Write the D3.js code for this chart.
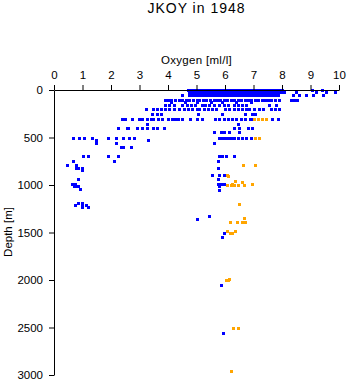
<!DOCTYPE html>
<html><head><meta charset="utf-8">
<script src="https://cdn.jsdelivr.net/npm/d3@7"></script>
<style>
body{margin:0;background:#fff}
svg text{font-family:"Liberation Sans",Arial,Helvetica,sans-serif;fill:#000}
</style>
</head><body>
<svg id="chart" width="348" height="384"></svg>
<script>
const titleText = "JKOY in 1948";
const xLabelText = "Oxygen [ml/l]";
const yLabelText = "Depth [m]";
const xTicks = [0,1,2,3,4,5,6,7,8,9,10];
const yTicks = [0,500,1000,1500,2000,2500,3000];

// [depth (m), oxygen values (ml/l)]
const blueRows = [
  [0,   [4.70,4.79,4.88,4.96,5.05,5.14,5.22,5.31,5.39,5.48,5.57,5.66,5.74,5.83,5.91,6.00,6.09,6.18,6.26,6.35,6.44,6.52,6.61,6.70,6.78,6.87,6.96,7.04,7.13,7.22,7.30,7.39,7.48,7.57,7.65,7.74,7.83,7.91,8.00,9.05,9.40]],
  [20,  [4.72,4.81,4.90,4.99,5.08,5.16,5.25,5.34,5.43,5.51,5.60,5.69,5.78,5.86,5.95,6.04,6.13,6.21,6.30,6.39,6.48,6.56,6.65,6.74,6.83,6.91,7.00,7.09,7.18,7.26,7.35,7.44,7.53,7.61,7.70,7.79,7.88,7.96,8.07,8.48,9.20,9.55,9.86]],
  [50,  [4.49,4.72,4.81,4.90,4.98,5.07,5.16,5.25,5.33,5.42,5.51,5.60,5.68,5.77,5.86,5.95,6.03,6.12,6.21,6.30,6.38,6.47,6.56,6.65,6.73,6.82,6.91,7.00,7.08,7.17,7.26,7.35,7.43,7.52,7.61,7.70,7.78,7.87,8.40,8.60,8.85,9.10,9.45]],
  [100, [3.90,4.00,4.12,4.25,4.38,4.50,4.62,4.75,4.86,5.00,5.10,5.24,5.35,5.46,5.60,5.71,5.84,5.95,6.06,6.20,6.31,6.44,6.55,6.70,6.80,6.91,7.05,7.16,7.30,7.40,7.50,7.62,7.75,7.88,8.30,8.42,8.52]],
  [125, [4.10,4.60,5.00,5.50,5.90,6.40,6.90]],
  [160, [3.90,4.05,4.20,4.50,4.65,4.80,4.95,5.20,5.30,5.45,5.60,5.80,5.95,6.10,6.30,6.45,6.60,6.75,7.55,7.80]],
  [200, [3.23,3.47,3.60,3.75,3.90,4.05,4.20,4.40,4.55,4.70,4.85,5.00,5.10,5.25,5.40,5.55,5.70,6.00,6.15,6.30,6.45,6.60,6.75,6.85,7.00,7.20,7.35,7.60,7.75,7.90]],
  [250, [3.44,3.60,3.75,5.05,5.90,6.70,6.95,7.05]],
  [300, [2.40,2.50,2.74,2.98,3.10,3.25,3.40,3.47,3.65,3.80,4.00,4.15,4.25,4.35,4.50,4.77,5.02,5.20,5.65,5.80,5.95,6.10,6.25,6.40,6.55,6.70,6.88,6.95,7.65,7.85]],
  [360, [3.25,6.45]],
  [400, [2.25,2.56,2.60,2.90,3.10,3.25,3.47,3.60,3.86,6.30,6.50,6.80,6.95]],
  [440, [5.60,5.85,5.95,6.15,6.50]],
  [500, [0.67,0.88,1.05,1.33,1.90,2.18,2.42,2.63,2.80,5.80,5.90,6.00,6.10,6.20,6.30,6.45,6.60,6.75,6.90]],
  [530, [1.47,3.30]],
  [560, [1.47,2.18,5.60]],
  [600, [2.35,2.42,2.70]],
  [690, [1.02,1.20,1.90,2.25,5.80,5.90,6.05,6.30]],
  [750, [0.67,2.10,5.75]],
  [790, [0.46,0.77]],
  [820, [0.84,0.77,0.98,5.75]],
  [845, [0.98]],
  [890, [5.55,5.80,5.95]],
  [940, [0.84,5.75]],
  [985, [0.63,0.74,5.75,5.85,5.95]],
  [1010, [0.70,0.77,0.84,5.80]],
  [1040, [0.91]],
  [1050, [5.80]],
  [1185, [0.84,0.98]],
  [1210, [1.12,0.74,0.98]],
  [1235, [0.98,1.19]],
  [1330, [5.44]],
  [1360, [5.00]],
  [1500, [5.96]],
  [1550, [5.90]],
  [2050, [5.87]],
  [2560, [5.94]]
];

const orangeRows = [
  [300, [7.00,7.15,7.30,7.45]],
  [500, [7.05,7.20]],
  [790, [6.63,7.05]],
  [890, [6.07]],
  [910, [6.10]],
  [960, [6.35]],
  [970, [6.60]],
  [990, [6.95,6.25]],
  [1000,[6.07,6.20,6.30,6.45,6.65]],
  [1200,[6.50]],
  [1350,[6.67]],
  [1390,[6.17,6.42,6.60,6.70]],
  [1480,[6.07,6.35]],
  [1500,[6.17,6.25]],
  [1990,[6.15]],
  [2000,[6.05,6.10]],
  [2500,[6.28,6.46]],
  [2960,[6.21]]
];

const svg = d3.select("#chart");
const x = d3.scaleLinear().domain([0,10]).range([54,339]);
const y = d3.scaleLinear().domain([0,3000]).range([90,375]);

function flat(rows){ return rows.flatMap(([d, vs]) => vs.map(v => ({d, v}))); }

function drawPts(rows, color){
  svg.append("g").selectAll("rect").data(flat(rows)).join("rect")
    .attr("x", p => Math.round(x(p.v)) - 1)
    .attr("y", p => Math.round(y(p.d)) - 1)
    .attr("width", 3).attr("height", 3)
    .attr("shape-rendering","crispEdges")
    .attr("fill", color);
}
drawPts(blueRows, "#0000ff");
drawPts(orangeRows, "#ffa500");

const gx = svg.append("g").attr("transform","translate(0,90)")
  .call(d3.axisTop(x).tickValues(xTicks).tickFormat(d3.format("d")).tickSize(5).tickSizeOuter(0).tickPadding(6));
const gy = svg.append("g").attr("transform","translate(54,0)")
  .call(d3.axisLeft(y).tickValues(yTicks).tickFormat(d3.format("d")).tickSize(5).tickSizeOuter(0).tickPadding(6));
[gx, gy].forEach(g => {
  g.attr("font-size", 11.5).attr("font-family", null);
  g.selectAll("text").attr("fill", "#000");
  g.selectAll("path,line").attr("stroke", "#000");
});

svg.append("text").attr("x", 196.5).attr("y", 13).attr("text-anchor","middle")
  .attr("font-size", 14).attr("letter-spacing", 1).text(titleText);
svg.append("text").attr("x", 196.5).attr("y", 64).attr("text-anchor","middle")
  .attr("font-size", 11.5).attr("letter-spacing", 0.3).text(xLabelText);
svg.append("text").attr("transform","translate(11.5,232) rotate(-90)")
  .attr("text-anchor","middle").attr("font-size", 11.5).text(yLabelText);
</script>
</body></html>
